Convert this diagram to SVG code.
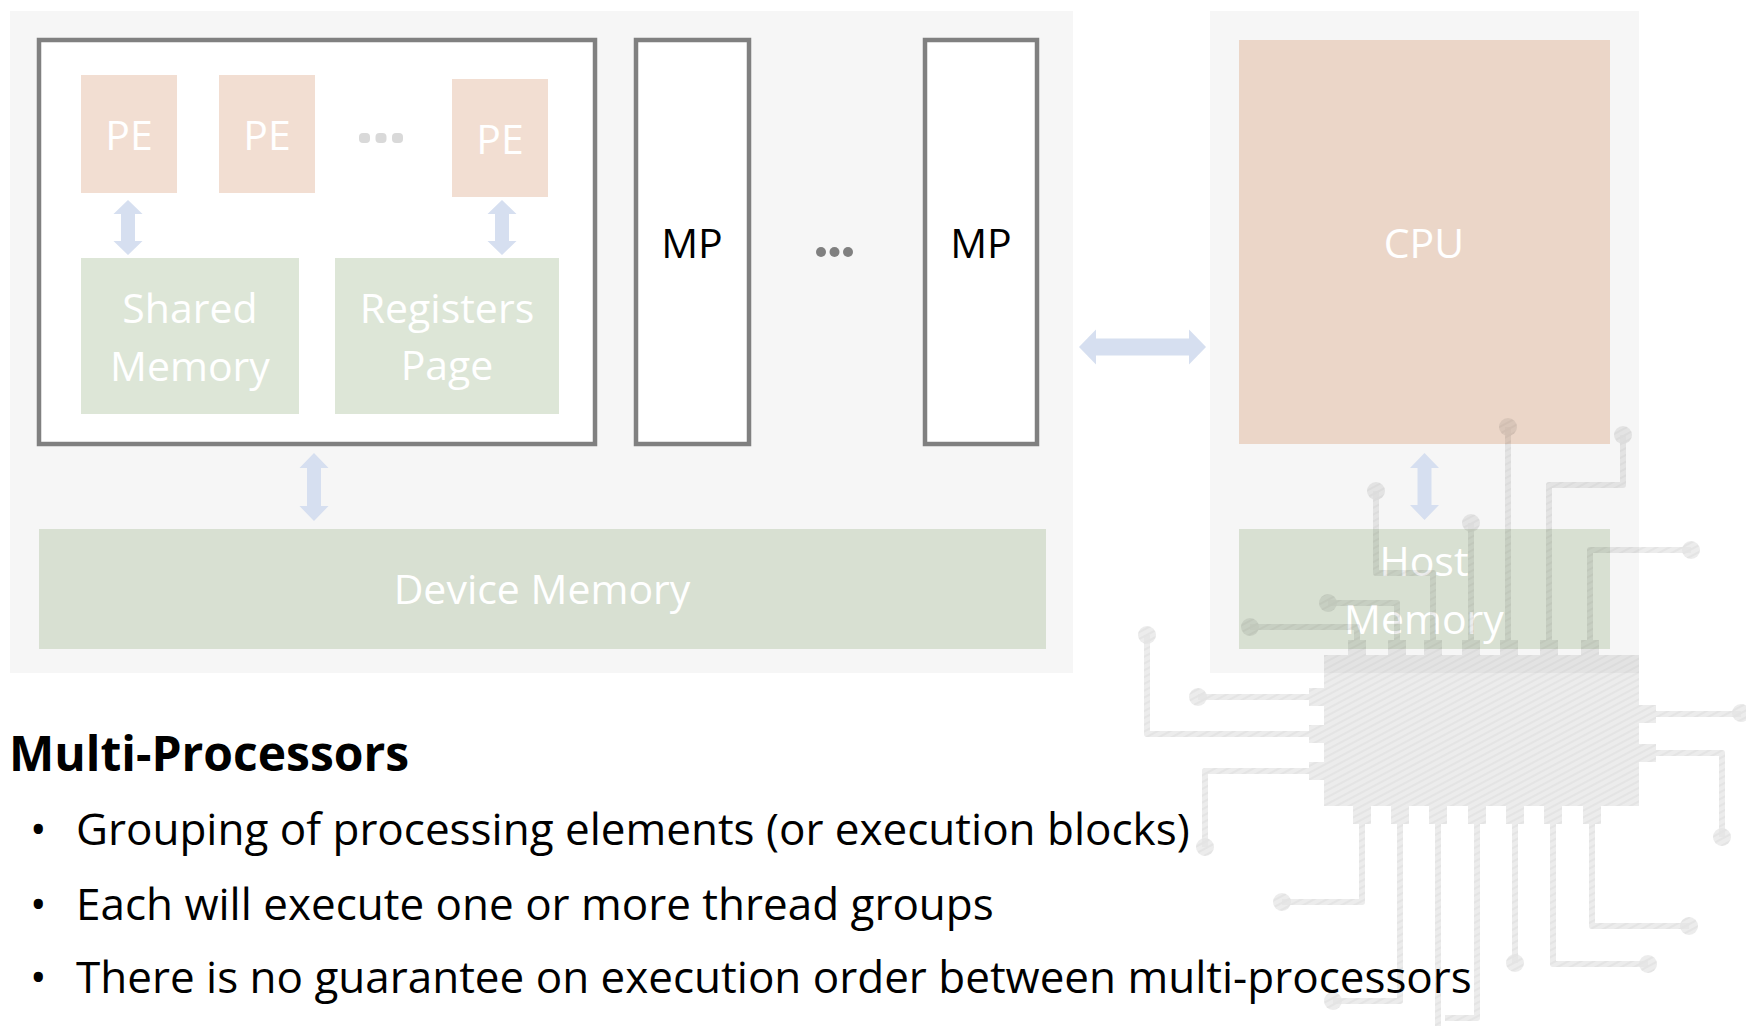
<svg xmlns="http://www.w3.org/2000/svg" width="1746" height="1026" viewBox="0 0 1746 1026">
  <defs>
    <!-- pencil-like hatching used by the circuit board ornament -->
    <pattern id="pencil" width="6" height="6" patternUnits="userSpaceOnUse" patternTransform="rotate(62)">
      <rect width="6" height="6" fill="#000" opacity="0.7"/>
      <rect width="2" height="6" fill="#000"/>
    </pattern>
  </defs>
  <style>
    text { font-family: "Open Sans", "DejaVu Sans", sans-serif; }
    .panel { fill: #F6F6F6; }
    .frame { fill: #FFFFFF; stroke: #808080; stroke-width: 4.5; }
    .pe { fill: #F2DED2; }
    .mem-in { fill: #DDE6D7; }
    .mem-out { fill: #D8E0D2; }
    .cpu { fill: #EBD6C8; }
    .lbl { fill: #FFFFFF; font-size: 41px; text-anchor: middle; }
    .mp { fill: #000000; font-size: 41px; text-anchor: middle; }
    .arrow { fill: #D6DFF0; }
    .dots-light { fill: #D9D9D9; }
    .dots-dark { fill: #808080; }
    .head { font-size: 48px; font-weight: 700; fill: #000000; }
    .bullet { font-size: 44px; fill: #000000; }
    .trace { fill: none; stroke: url(#pencil); stroke-width: 6; stroke-linejoin: round; }
    .pad { fill: url(#pencil); }
  </style>

  <rect width="1746" height="1026" fill="#FFFFFF"/>

  <!-- device (GPU) and host panels -->
  <g id="device-panel"><rect class="panel" x="10" y="11" width="1063" height="662"/></g>
  <g id="host-panel"><rect class="panel" x="1210" y="11" width="429" height="662"/></g>

  <!-- first multi-processor, expanded -->
  <g id="mp-expanded">
    <rect class="frame" x="39" y="40" width="556" height="404"/>
  </g>
  <g id="pe-1">
    <rect class="pe" x="81" y="75" width="96" height="118"/>
    <text class="lbl" x="129" y="150">PE</text>
  </g>
  <g id="pe-2">
    <rect class="pe" x="219" y="75" width="96" height="118"/>
    <text class="lbl" x="267" y="150">PE</text>
  </g>
  <g id="pe-ellipsis" class="dots-light">
    <rect x="359" y="133" width="11" height="10" rx="4"/>
    <rect x="375.5" y="133" width="11" height="10" rx="4"/>
    <rect x="392" y="133" width="11" height="10" rx="4"/>
  </g>
  <g id="pe-n">
    <rect class="pe" x="452" y="79" width="96" height="118"/>
    <text class="lbl" x="500" y="154">PE</text>
  </g>
  <g id="shared-memory">
    <rect class="mem-in" x="81" y="258" width="218" height="156"/>
    <text class="lbl" x="190" y="323">Shared</text>
    <text class="lbl" x="190" y="381">Memory</text>
  </g>
  <g id="registers-page">
    <rect class="mem-in" x="335" y="258" width="224" height="156"/>
    <text class="lbl" x="447" y="323">Registers</text>
    <text class="lbl" x="447" y="380">Page</text>
  </g>

  <!-- further multi-processors -->
  <g id="mp-2">
    <rect class="frame" x="636" y="40" width="113" height="404"/>
    <text class="mp" x="692" y="258">MP</text>
  </g>
  <g id="mp-ellipsis" class="dots-dark">
    <circle cx="821" cy="252" r="5"/>
    <circle cx="834.5" cy="252" r="5"/>
    <circle cx="848" cy="252" r="5"/>
  </g>
  <g id="mp-n">
    <rect class="frame" x="925" y="40" width="112" height="404"/>
    <text class="mp" x="981" y="258">MP</text>
  </g>

  <g id="device-memory">
    <rect class="mem-out" x="39" y="529" width="1007" height="120"/>
    <text class="lbl" x="542" y="604">Device Memory</text>
  </g>

  <g id="cpu">
    <rect class="cpu" x="1239" y="40" width="371" height="404"/>
    <text class="lbl" x="1424" y="258">CPU</text>
  </g>
  <g id="host-memory">
    <rect class="mem-out" x="1239" y="529" width="371" height="120"/>
    <text class="lbl" x="1424" y="576">Host</text>
    <text class="lbl" x="1424" y="634">Memory</text>
  </g>

  <!-- double-headed block arrows -->
  <g id="connectors" class="arrow">
    <path d="M128 200 L142.5 214 L135 214 L135 241 L142.5 241 L128 255 L113.5 241 L121 241 L121 214 L113.5 214 Z"/>
    <path d="M502 200 L516.5 214 L509 214 L509 241 L516.5 241 L502 255 L487.5 241 L495 241 L495 214 L487.5 214 Z"/>
    <path d="M314 453 L328.5 468 L321 468 L321 506 L328.5 506 L314 521 L299.5 506 L307 506 L307 468 L299.5 468 Z"/>
    <path d="M1424.5 453 L1439 468 L1431.5 468 L1431.5 505 L1439 505 L1424.5 520 L1410 505 L1417.5 505 L1417.5 468 L1410 468 Z"/>
    <path d="M1079 347 L1096 329.5 L1096 338.5 L1189 338.5 L1189 329.5 L1206 347 L1189 364.5 L1189 355.5 L1096 355.5 L1096 364.5 Z"/>
  </g>

  <!-- text block -->
  <g id="notes">
    <text class="head" x="9" y="771">Multi-Processors</text>
    <text class="bullet" x="30" y="845">•</text>
    <text class="bullet" x="76" y="845">Grouping of processing elements (or execution blocks)</text>
    <text class="bullet" x="30" y="920">•</text>
    <text class="bullet" x="76" y="920">Each will execute one or more thread groups</text>
    <text class="bullet" x="30" y="993">•</text>
    <text class="bullet" x="76" y="993">There is no guarantee on execution order between multi-processors</text>
  </g>

  <!-- faint hand-drawn circuit board ornament -->
  <g id="circuit-ornament" opacity="0.1">
    <rect class="pad" x="1324" y="655" width="315" height="151"/>
    <!-- pins -->
    <g class="pad">
      <rect x="1348" y="640" width="18" height="15"/>
      <rect x="1388" y="640" width="18" height="15"/>
      <rect x="1424" y="640" width="18" height="15"/>
      <rect x="1462" y="640" width="18" height="15"/>
      <rect x="1500" y="640" width="18" height="15"/>
      <rect x="1540" y="640" width="18" height="15"/>
      <rect x="1581" y="640" width="18" height="15"/>
      <rect x="1353" y="806" width="18" height="18"/>
      <rect x="1391" y="806" width="18" height="18"/>
      <rect x="1429" y="806" width="18" height="18"/>
      <rect x="1468" y="806" width="18" height="18"/>
      <rect x="1506" y="806" width="18" height="18"/>
      <rect x="1544" y="806" width="18" height="18"/>
      <rect x="1583" y="806" width="18" height="18"/>
      <rect x="1309" y="688" width="15" height="18"/>
      <rect x="1309" y="725" width="15" height="18"/>
      <rect x="1309" y="762" width="15" height="18"/>
      <rect x="1639" y="705" width="17" height="18"/>
      <rect x="1639" y="744" width="17" height="18"/>
    </g>
    <!-- traces -->
    <g class="trace">
      <path d="M1250 627 H1357 V640"/>
      <path d="M1328 603 H1397 V640"/>
      <path d="M1376 491 V573 H1433 V640"/>
      <path d="M1471 523 V640"/>
      <path d="M1508 427 V640"/>
      <path d="M1623 435 V485 H1549 V640"/>
      <path d="M1691 550 H1590 V640"/>
      <path d="M1362 824 V902 H1282"/>
      <path d="M1400 824 V1001 H1333"/>
      <path d="M1438 824 V1030"/>
      <path d="M1477 824 V1018 H1445"/>
      <path d="M1515 824 V963"/>
      <path d="M1553 824 V964 H1648"/>
      <path d="M1592 824 V926 H1689"/>
      <path d="M1309 697 H1198"/>
      <path d="M1309 734 H1147 V635"/>
      <path d="M1309 771 H1205 V847"/>
      <path d="M1656 714 H1741"/>
      <path d="M1656 753 H1722 V837"/>
    </g>
    <!-- trace end pads -->
    <g class="pad">
      <circle cx="1250" cy="627" r="9"/>
      <circle cx="1328" cy="603" r="9"/>
      <circle cx="1376" cy="491" r="9"/>
      <circle cx="1471" cy="523" r="9"/>
      <circle cx="1508" cy="427" r="9"/>
      <circle cx="1623" cy="435" r="9"/>
      <circle cx="1691" cy="550" r="9"/>
      <circle cx="1282" cy="902" r="9"/>
      <circle cx="1333" cy="1001" r="9"/>
      <circle cx="1515" cy="963" r="9"/>
      <circle cx="1648" cy="964" r="9"/>
      <circle cx="1689" cy="926" r="9"/>
      <circle cx="1198" cy="697" r="9"/>
      <circle cx="1147" cy="635" r="9"/>
      <circle cx="1205" cy="847" r="9"/>
      <circle cx="1741" cy="713" r="9"/>
      <circle cx="1722" cy="837" r="9"/>
    </g>
  </g>
</svg>
